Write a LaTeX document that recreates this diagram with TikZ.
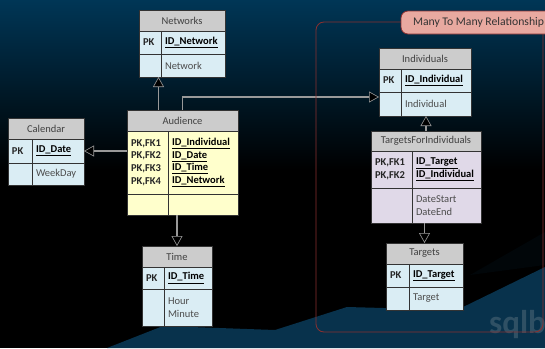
\documentclass[tikz,border=0pt]{standalone}
\usepackage{fontspec}
\setmainfont{Carlito}
\usetikzlibrary{arrows.meta}
\definecolor{tblblue}{HTML}{DAEDF4}
\definecolor{tblyellow}{HTML}{FFFFCC}
\definecolor{tblpurple}{HTML}{E0D9E8}
\definecolor{tblhead}{HTML}{CCCCCC}
\definecolor{topblue}{HTML}{003656}
\definecolor{floorblue}{HTML}{08324C}
\definecolor{framered}{HTML}{8A3030}
\definecolor{notepink}{HTML}{E8A9A0}
\definecolor{markgray}{HTML}{2F5064}
\newcommand{\idkey}[1]{\underline{\textbf{#1}}}
\tikzset{
  cell/.style={draw=black!80, line width=0.7pt, anchor=north west, inner xsep=4pt, inner ysep=0pt, outer sep=0pt,
    align=left, font=\fontsize{10.5}{12.6}\selectfont, text=black!85},
  link/.style={draw=black!40, line width=1.8pt, -{Triangle[length=10pt, width=11pt, line width=0.6pt, fill=black]}}
}
\begin{document}
\begin{tikzpicture}[x=1pt, y=-1pt]
\clip (0,0) rectangle (545,348);
\shade[top color=topblue, bottom color=black] (0,0) rectangle (545,170);
\fill[black] (0,170) rectangle (545,348);
\fill[black!88!floorblue] (470,275) -- (545,232) -- (545,265) -- cycle;
\fill[floorblue] (107,348) -- (163,326) -- (275,330) -- (347,307) -- (457,310) -- (545,267) -- (545,348) -- cycle;
\node[text=markgray, font=\bfseries\fontsize{33}{33}\selectfont, anchor=west, inner sep=0pt] (sqlbi) at (489,325) {sqlbi};
% name/title/left/top/key width/id width/row heights/texts/fill
\foreach \n/\t/\x/\y/\wa/\wb/\ha/\hb/\hc/\ka/\kb/\attr/\col in {
  networks/Networks/139/10/22/64/21/23/23/PK/{\idkey{ID\_Network}}/Network/tblblue,
  audience/Audience/127/110/41/70/21/63/21/{\textbf{PK,FK1}\\\textbf{PK,FK2}\\\textbf{PK,FK3}\\\textbf{PK,FK4}}/{\idkey{ID\_Individual}\\\idkey{ID\_Date}\\\idkey{ID\_Time}\\\idkey{ID\_Network}}/{}/tblyellow,
  calendar/Calendar/8/118/24/52/21/24/22/PK/{\idkey{ID\_Date}}/WeekDay/tblblue,
  time/Time/142/246/22/48/21/22/37/PK/{\idkey{ID\_Time}}/{Hour\\Minute}/tblblue,
  individuals/Individuals/379/48/22/70/21/23/24/PK/{\idkey{ID\_Individual}}/Individual/tblblue,
  tfi/TargetsForIndividuals/371/131/41/69/20/37/35/{\textbf{PK,FK1}\\\textbf{PK,FK2}}/{\idkey{ID\_Target}\\\idkey{ID\_Individual}}/{DateStart\\DateEnd}/tblpurple,
  targets/Targets/386/243/23/54/21/23/23/PK/{\idkey{ID\_Target}}/Target/tblblue}
{
  \pgfmathsetmacro\wc{\wa+\wb}
  \pgfmathsetmacro\ta{\wa-8}
  \pgfmathsetmacro\tb{\wb-8}
  \pgfmathsetmacro\ya{\y+\ha}
  \pgfmathsetmacro\yb{\ya+\hb}
  \pgfmathsetmacro\xb{\x+\wa}
  \node[cell, fill=tblhead, align=center, text=black!75, minimum width=\wc, minimum height=\ha] (\n) at (\x,\y) {\t};
  \node[cell, fill=\col, font=\fontsize{10.5}{12.6}\selectfont\bfseries, text width=\ta pt, minimum height=\hb] (\n-key) at (\x,\ya) {\ka};
  \node[cell, fill=\col, text=black, text width=\tb pt, minimum height=\hb] (\n-id) at (\xb,\ya) {\kb};
  \node[cell, fill=\col, text width=\ta pt, minimum height=\hc] (\n-attrkey) at (\x,\yb) {};
  \node[cell, fill=\col, text=black!70, text width=\tb pt, minimum height=\hc] (\n-attr) at (\xb,\yb) {\attr};
}
\draw[link] ([xshift=-24pt]audience.north) -- ([xshift=-24pt]audience.north |- networks-attr.south);
\draw[link] (audience-key.west |- calendar-id.east) -- (calendar-id.east);
\draw[link] (time.north |- audience-attr.south) -- (time.north);
\draw[link] (audience.north) |- ([yshift=-5pt]individuals-attrkey.north west);
\draw[link] (tfi.north) -- (tfi.north |- individuals-attr.south);
\draw[link] (targets.north |- tfi-attr.south) -- (targets.north);
\draw[framered, line width=0.8pt, rounded corners=8pt] (316,22) rectangle (543,332);
\node[draw=framered, line width=0.8pt, fill=notepink, rounded corners=7pt, anchor=north west,
  minimum width=155, minimum height=23, inner xsep=0pt, inner ysep=0pt, outer sep=0pt, text=black!80, font=\fontsize{11.7}{13}\selectfont] (relationship) at (401,11) {Many To Many Relationship};
\end{tikzpicture}
\end{document}
